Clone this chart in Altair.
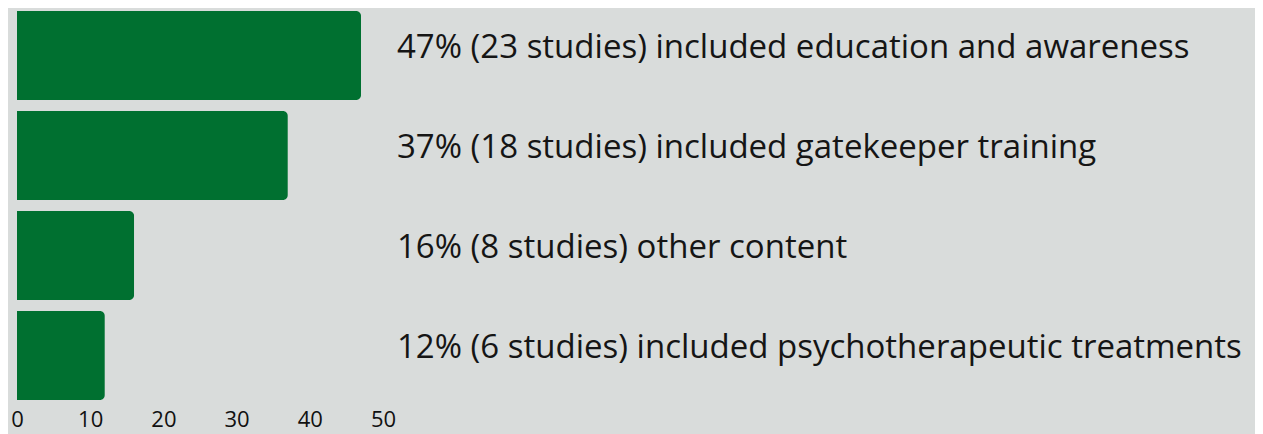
import altair as alt
import pandas as pd

categories = ["education", "gatekeeper", "other", "psychotherapeutic"]
percents = [47, 37, 16, 12]
studies = [23, 18, 8, 6]
descriptions = [
    "included education and awareness",
    "included gatekeeper training",
    "other content",
    "included psychotherapeutic treatments",
]
x_ticks = [0, 10, 20, 30, 40, 50]

labels = [f"{p}% ({s} studies) {d}" for p, s, d in zip(percents, studies, descriptions)]
df = pd.DataFrame({"category": categories, "percent": percents, "label": labels})

BG = "#d9dcdb"
GREEN = "#007030"

y_enc = alt.Y(
    "category:N",
    sort=categories,
    axis=None,
    scale=alt.Scale(paddingInner=0.11, paddingOuter=0),
)

bars = alt.Chart(df).mark_bar(color=GREEN, cornerRadiusEnd=5).encode(
    x=alt.X(
        "percent:Q",
        scale=alt.Scale(domain=[0, 50], nice=False),
        axis=alt.Axis(
            values=x_ticks,
            title=None,
            domain=False,
            ticks=False,
            grid=False,
            labelFont="Open Sans",
            labelFontSize=22,
            labelColor="#111111",
            labelPadding=9,
            labelFlush=False,
        ),
    ),
    y=y_enc,
)

text = alt.Chart(df).mark_text(
    align="left",
    baseline="middle",
    font="Open Sans",
    fontSize=33,
    color="#151515",
    dy=-8,
).encode(
    x=alt.value(380),
    y=y_enc,
    text="label:N",
)

chart = (
    alt.layer(bars, text)
    .properties(
        width=366,
        height=389,
        autosize=alt.AutoSizeParams(type="none"),
        padding={"left": 9, "top": 3, "right": 872, "bottom": 34},
        background=BG,
    )
    .configure_view(stroke=None, fill=BG)
)

chart.save("out.html", embed_options={"renderer": "svg", "actions": False})
